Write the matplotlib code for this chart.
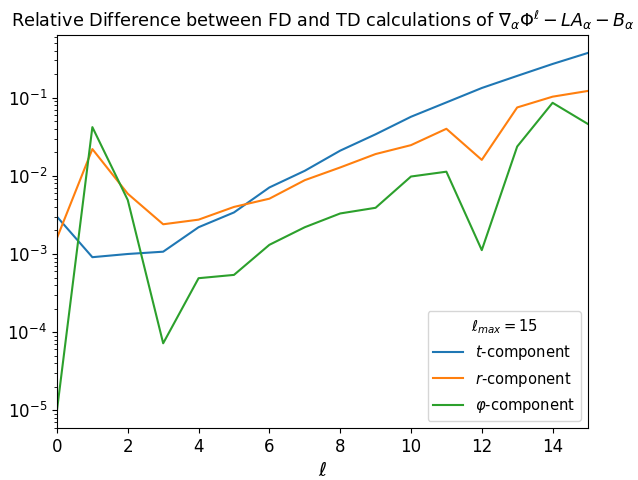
import numpy as np
import matplotlib
matplotlib.use('Agg')
import matplotlib.pyplot as plt

# multipole index
ells = np.arange(0, 16)

# relative differences
t_component = [3.0e-3, 9.1e-4, 1.0e-3, 1.07e-3, 2.2e-3, 3.4e-3, 7.1e-3, 1.16e-2,
               2.1e-2, 3.4e-2, 5.7e-2, 8.7e-2, 0.133, 0.19, 0.27, 0.374]
r_component = [1.6e-3, 2.2e-2, 5.9e-3, 2.4e-3, 2.75e-3, 4.0e-3, 5.1e-3, 8.8e-3,
               1.28e-2, 1.9e-2, 2.47e-2, 4.0e-2, 1.6e-2, 7.5e-2, 0.103, 0.122]
phi_component = [1.0e-5, 4.2e-2, 4.9e-3, 7.2e-5, 4.9e-4, 5.4e-4, 1.31e-3, 2.2e-3,
                 3.3e-3, 3.9e-3, 9.8e-3, 1.13e-2, 1.12e-3, 2.37e-2, 8.6e-2, 4.6e-2]

fig, ax = plt.subplots(figsize=(6.38, 4.8), dpi=100)
fig.subplots_adjust(left=0.0893, right=0.9216, top=0.927, bottom=0.108)

ax.plot(ells, t_component, label=r'$t$-component')
ax.plot(ells, r_component, label=r'$r$-component')
ax.plot(ells, phi_component, label=r'$\varphi$-component')

ax.set_yscale('log')
ax.set_xlim(0, 15)
ax.set_xlabel(r'$\ell$', fontsize=14)
ax.tick_params(labelsize=12)
ax.set_title(r'Relative Difference between FD and TD calculations of '
             r'$\nabla_\alpha \Phi^\ell - L A_\alpha - B_\alpha$', fontsize=12.7)
ax.legend(title=r'$\ell_{max} = 15$', loc='lower right',
          fontsize=10.6, title_fontsize=10.6)

plt.savefig('out.png')
